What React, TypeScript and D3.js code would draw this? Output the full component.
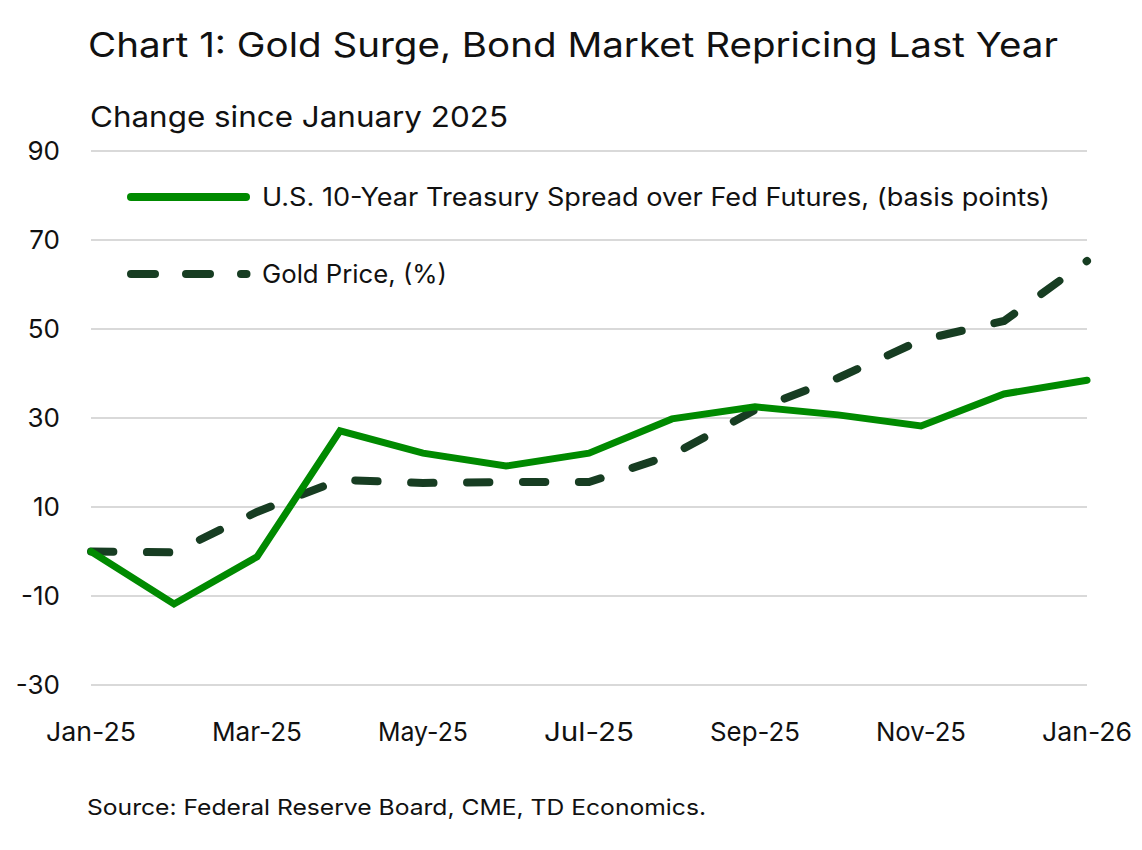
import React from "react";
import * as d3 from "d3";

const months = ["Jan-25","Feb-25","Mar-25","Apr-25","May-25","Jun-25","Jul-25","Aug-25","Sep-25","Oct-25","Nov-25","Dec-25","Jan-26"];
const treasurySpread = [0, -11.8, -1.2, 27.1, 22.1, 19.2, 22.1, 29.8, 32.5, 30.7, 28.2, 35.4, 38.5];
const goldPrice = [0, -0.2, 8.9, 16.1, 15.4, 15.6, 15.6, 21.7, 31.8, 39, 47.5, 51.8, 65.3];
const yTicks = [-30, -10, 10, 30, 50, 70, 90];
const xTickLabels = ["Jan-25","Mar-25","May-25","Jul-25","Sep-25","Nov-25","Jan-26"];

const W = 1142, H = 850;
const FONT = "Inter, 'Open Sans', sans-serif";
const GREEN = "#008a00";
const DARK = "#173d22";

export default function App() {
  const x = d3.scaleLinear().domain([0, months.length - 1]).range([91, 1087]);
  const y = d3.scaleLinear().domain([-30, 90]).range([685, 151]);
  const line = d3.line<number>().x((_, i) => x(i)).y((d) => y(d));
  // fit the dash period so the gold line ends on a dot, as in the reference
  let L = 0;
  for (let i = 1; i < goldPrice.length; i++) {
    L += Math.hypot(x(i) - x(i - 1), y(goldPrice[i]) - y(goldPrice[i - 1]));
  }
  const n = Math.round((L - 0.5) / 55);
  const p = (L - 0.5) / n;
  const dashLen = 22 * p / 55;
  return (
    <svg width={W} height={H} style={{ position: "absolute", left: 0, top: 0, background: "#fff" }} fontFamily={FONT}>
      <text x={88} y={57} fontSize={34} fill="#111" textLength={970} lengthAdjust="spacingAndGlyphs">Chart 1: Gold Surge, Bond Market Repricing Last Year</text>
      <text x={90} y={127} fontSize={29} fill="#111" textLength={418} lengthAdjust="spacingAndGlyphs">Change since January 2025</text>
      {yTicks.map((t) => (
        <g key={t}>
          <line x1={91} x2={1087} y1={y(t)} y2={y(t)} stroke="#d9d9d9" strokeWidth={2} />
          <text x={60} y={y(t)} dy="0.35em" textAnchor="end" fontSize={26} fill="#111">{t}</text>
        </g>
      ))}
      {xTickLabels.map((lbl) => {
        const i = months.indexOf(lbl);
        return (
          <text key={lbl} x={x(i)} y={741} textAnchor="middle" fontSize={26} fill="#111" textLength={90} lengthAdjust="spacingAndGlyphs">{lbl}</text>
        );
      })}
      <path d={line(goldPrice) || ""} fill="none" stroke={DARK} strokeWidth={8} strokeLinecap="round" strokeDasharray={`${dashLen} ${p - dashLen}`} />
      <path d={line(treasurySpread) || ""} fill="none" stroke={GREEN} strokeWidth={7} strokeLinecap="round" strokeLinejoin="miter" />
      <line x1={131} x2={246} y1={197} y2={197} stroke={GREEN} strokeWidth={8} strokeLinecap="round" />
      <text x={262} y={197} dy="0.35em" fontSize={25} fill="#111" textLength={788} lengthAdjust="spacingAndGlyphs">U.S. 10-Year Treasury Spread over Fed Futures, (basis points)</text>
      <line x1={131} x2={246.5} y1={274} y2={274} stroke={DARK} strokeWidth={8} strokeLinecap="round" strokeDasharray="24 31" />
      <text x={262} y={274} dy="0.35em" fontSize={25} fill="#111" textLength={185} lengthAdjust="spacingAndGlyphs">Gold Price, (%)</text>
      <text x={87} y={815} fontSize={22} fill="#111" textLength={619} lengthAdjust="spacingAndGlyphs">Source: Federal Reserve Board, CME, TD Economics.</text>
    </svg>
  );
}
